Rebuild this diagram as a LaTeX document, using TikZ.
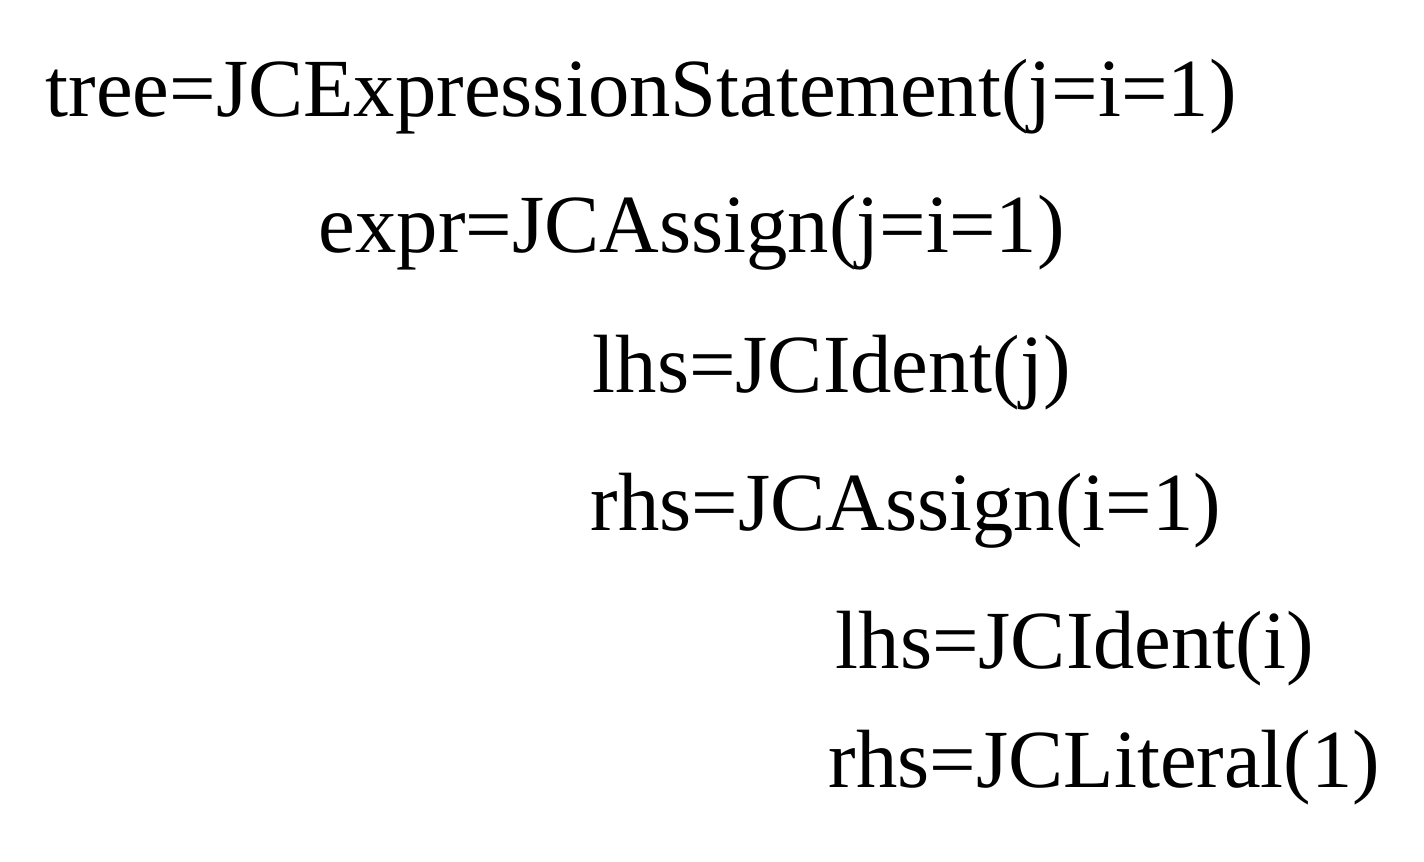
\documentclass[tikz,border=0pt]{standalone}
\usepackage{fontspec}
\setmainfont{Liberation Serif}
\begin{document}
\begin{tikzpicture}[x=0.01cm,y=-0.01cm,
  line/.style={anchor=base west,inner sep=0pt,font=\fontsize{23.5pt}{28pt}\selectfont}]
\useasboundingbox (0,0) rectangle (1424,862);
\node[line] (l1) at (45,117) {tree=JCExpressionStatement(j=i=1)};
\node[line] (l2) at (318,253) {expr=JCAssign(j=i=1)};
\node[line] (l3) at (592,393) {lhs=JCIdent(j)};
\node[line] (l4) at (590,531) {rhs=JCAssign(i=1)};
\node[line] (l5) at (835,669) {lhs=JCIdent(i)};
\node[line] (l6) at (828,788) {rhs=JCLiteral(1)};
\end{tikzpicture}
\end{document}
